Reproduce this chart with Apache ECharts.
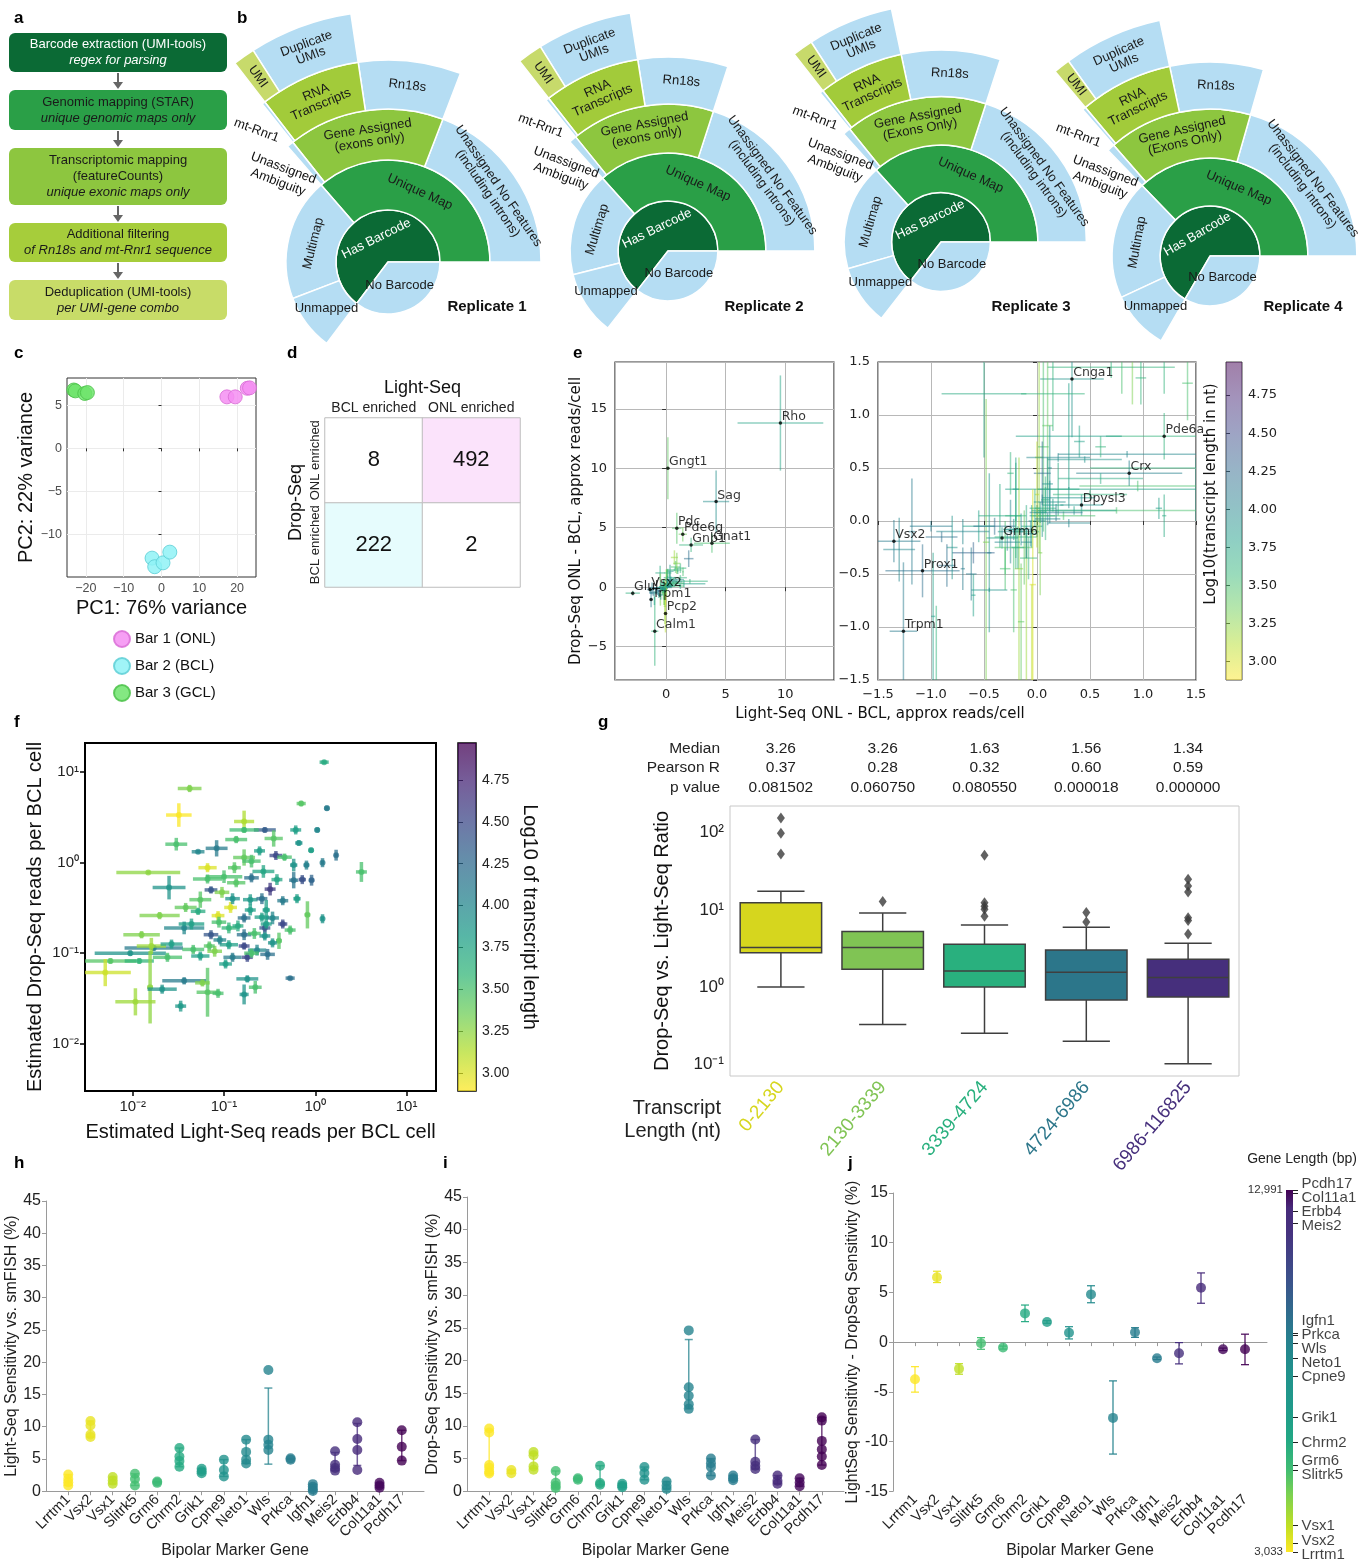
<!DOCTYPE html>
<html>
<head>
<meta charset="utf-8">
<title>Light-Seq figure</title>
<script src="https://cdn.jsdelivr.net/npm/echarts@6.0.0/dist/echarts.min.js"></script>
<style>
html,body{margin:0;padding:0;background:#ffffff;}
#chart{width:1370px;height:1560px;}
</style>
</head>
<body>
<div id="chart"></div>
<script>
// ======================= DATA =======================
// (a) processing pipeline
const flowTitles = ['Barcode extraction (UMI-tools)', 'Genomic mapping (STAR)', 'Transcriptomic mapping\n(featureCounts)', 'Additional filtering', 'Deduplication (UMI-tools)'];
const flowNotes = ['regex for parsing', 'unique genomic maps only', 'unique exonic maps only', 'of Rn18s and mt-Rnr1 sequence', 'per UMI-gene combo'];

// (b) read fate sunbursts (values = degrees of the full circle)
// order: HasBarcode, NoBarcode, UniqueMap, Multimap, Unmapped, UnassignedNoFeatures, GeneAssigned,
//        UnassignedAmbiguity, Rn18s, RNATranscripts, mtRnr1, DuplicateUMIs, UMI
const replicate1 = [233, 127, 131, 70, 32, 69, 59.5, 2.5, 29.5, 29.1, 0.9, 24, 5.1];
const replicate2 = [232, 128, 132, 62, 38, 72, 57, 3, 27, 29, 1, 23, 6];
const replicate3 = [232, 128, 132, 64, 36, 72, 57, 3, 30, 26, 1, 21, 5];
const replicate4 = [240, 120, 134, 71, 35, 74, 57, 3, 28, 28, 1, 24, 4];
const replicateNames = ['Replicate 1', 'Replicate 2', 'Replicate 3', 'Replicate 4'];
const geneAssignedNames = ['Gene Assigned\n(exons only)', 'Gene Assigned\n(exons only)', 'Gene Assigned\n(Exons Only)', 'Gene Assigned\n(Exons Only)'];

// (c) PCA
const pcaGroups = ['Bar 1 (ONL)', 'Bar 2 (BCL)', 'Bar 3 (GCL)'];
const pcaONL = [[17.3, 6.0], [19.5, 6.0], [22.7, 7.0], [23.3, 7.05]];
const pcaBCL = [[-2.5, -12.8], [-1.8, -13.8], [0.4, -13.35], [2.2, -12.1]];
const pcaGCL = [[-23.2, 6.8], [-22.8, 6.7], [-20.3, 6.4], [-19.6, 6.5]];
const pcaTicksX = [-20, -10, 0, 10, 20];
const pcaTicksY = [-10, -5, 0, 5];

// (d) contingency table
const dCategories = ['BCL enriched', 'ONL enriched'];
const dCounts = [[0, 0, 222], [1, 0, 2], [0, 1, 8], [1, 1, 492]]; // [Light-Seq col, Drop-Seq row, count]

// (e) ONL - BCL differences: [x, y, xerr, yerr, log10 length]
const eNames = ['Rho', 'Gngt1', 'Sag', 'Pdc', 'Pde6g', 'Gnb1', 'Gnat1', 'Glul', 'Vsx2', 'Trpm1', 'Pcp2', 'Calm1', 'Cnga1', 'Pde6a', 'Crx', 'Dpysl3', 'Grm6', 'Prox1'];
const eLabeled = [[9.6, 13.8, 3.6, 4.0, 3.75], [0.15, 10.0, 0.15, 2.6, 3.4], [4.2, 7.2, 1.1, 2.6, 3.95], [0.9, 4.95, 0.4, 1.3, 3.45], [1.4, 4.45, 0.35, 0.6, 3.35], [2.1, 3.55, 1.0, 0.6, 3.6], [3.85, 3.7, 1.5, 0.8, 3.5], [-2.8, -0.5, 0.6, 0.2, 3.65], [-1.35, -0.19, 0.25, 0.2, 4.1], [-1.26, -1.04, 0.13, 0.65, 4.1], [-0.05, -2.2, 0.15, 1.6, 3.1], [-0.95, -3.7, 0.3, 2.9, 3.6], [0.33, 1.34, 0.3, 0.55, 3.9], [1.2, 0.8, 0.55, 0.22, 3.6], [0.87, 0.45, 0.5, 0.12, 4.05], [0.42, 0.15, 0.2, 0.1, 3.9], [-0.33, -0.16, 0.15, 0.1, 3.8], [-1.08, -0.47, 0.35, 0.25, 4.2]];
const eOther = [[0.7, 2.5, 0.3, 0.6, 3.2], [0.8, 1.7, 0.4, 0.5, 3.5], [1.2, 1.6, 0.5, 0.4, 3.6], [1.9, 2.4, 0.4, 0.7, 4.2], [0.9, 2.0, 0.3, 0.9, 3.3], [1.5, 0.3, 1.8, 0.3, 3.8], [2.0, 0.5, 1.5, 0.2, 3.6], [-0.1, -1.6, 0.1, 1.5, 3.2], [-0.5, 1.2, 0.4, 0.6, 3.7], [0.3, 0.8, 0.5, 0.5, 3.8],
  [0.02, 0.6, 0.04, 0.9, 3.2], [0.06, 0.7, 0.05, 0.8, 3.5], [0.1, 0.9, 0.05, 0.6, 3.4], [0.15, 1.2, 0.3, 0.35, 3.6], [0.7, 1.45, 0.6, 0.1, 3.6], [0.98, 1.35, 0.05, 0.25, 3.6], [1.42, 1.3, 0.05, 0.35, 3.5], [0.85, 0.63, 0.65, 0.03, 4.0], [0.45, 0.58, 0.35, 0.03, 3.9], [0.75, 0.1, 0.75, 0.03, 3.5],
  [1.15, 0.12, 0.03, 0.1, 3.8], [0.6, 0.4, 0.4, 0.05, 3.7], [0.95, 0.33, 0.55, 0.05, 3.5], [0.3, 0.22, 0.25, 0.1, 3.9], [0.2, 0.3, 0.2, 0.25, 3.7], [0.12, 0.18, 0.15, 0.2, 3.95], [0.08, 0.12, 0.1, 0.3, 3.6], [0.05, 0.05, 0.12, 0.2, 3.9], [0.0, 0.0, 0.08, 0.15, 4.0], [-0.05, -0.05, 0.1, 0.2, 3.8],
  [-0.1, -0.1, 0.12, 0.25, 3.7], [-0.15, -0.08, 0.15, 0.15, 3.9], [-0.2, -0.15, 0.2, 0.2, 3.6], [-0.25, -0.1, 0.12, 0.3, 4.0], [-0.3, -0.25, 0.1, 0.25, 3.5], [-0.12, -0.25, 0.08, 0.35, 3.4], [-0.04, -0.6, 0.03, 0.9, 3.0], [-0.48, -0.2, 0.03, 1.35, 3.3], [-0.17, -0.45, 0.04, 1.05, 3.2], [-0.22, -0.65, 0.03, 0.4, 3.5],
  [-0.45, -0.3, 0.02, 0.75, 3.9], [-0.45, -0.65, 0.17, 0.02, 3.9], [-0.62, -0.5, 0.05, 0.25, 4.1], [-0.85, -0.42, 0.08, 0.2, 4.2], [-0.98, -0.9, 0.02, 0.6, 3.8], [-1.18, -0.1, 0.03, 0.5, 4.1], [-1.3, -0.27, 0.15, 0.3, 4.0], [-0.7, -0.1, 0.25, 0.12, 4.0], [-0.6, -0.3, 0.2, 0.1, 4.3], [-0.55, -0.05, 0.15, 0.15, 3.8],
  [-0.4, -0.05, 0.2, 0.08, 4.2], [-0.35, 0.05, 0.2, 0.3, 3.7], [-0.2, 0.05, 0.1, 0.5, 3.6], [-0.2, 0.3, 0.03, 0.3, 3.8], [0.25, 0.05, 0.3, 0.04, 3.5], [0.35, 0.1, 0.4, 0.04, 3.8], [0.1, 0.35, 0.05, 0.25, 3.9], [0.05, 0.45, 0.08, 0.3, 4.2], [0.18, 0.08, 0.25, 0.08, 4.1], [-0.08, -0.35, 0.08, 0.2, 3.6],
  [-0.3, -0.45, 0.05, 0.2, 3.5], [-0.8, -0.25, 0.05, 0.3, 3.9], [-0.9, -0.15, 0.15, 0.05, 4.2], [-1.0, -0.05, 0.2, 0.05, 4.1], [-0.15, -0.95, 0.03, 0.55, 3.4], [0.0, 0.25, 0.02, 0.5, 3.1], [0.03, -0.3, 0.02, 0.4, 3.3], [0.2, 0.6, 0.3, 0.04, 4.0], [0.5, 0.25, 0.35, 0.04, 3.6], [0.4, 0.75, 0.05, 0.15, 3.8],
  [0.12, 0.5, 0.02, 0.4, 3.9], [0.6, 0.7, 0.05, 0.1, 3.6], [-0.25, 0.45, 0.03, 0.2, 3.6], [-0.6, -0.7, 0.02, 0.2, 3.8], [-0.7, -0.45, 0.02, 0.2, 4.1], [0.3, -0.02, 0.2, 0.04, 4.0], [1.2, 0.05, 0.02, 0.2, 3.7],
  [-0.06, -0.12, 0.06, 0.12, 3.9], [0.03, 0.08, 0.06, 0.1, 3.8], [-0.1, -0.2, 0.05, 0.15, 4.0], [0.08, 0.2, 0.04, 0.12, 3.7], [-0.22, -0.08, 0.1, 0.1, 3.9], [-0.02, 0.12, 0.05, 0.18, 3.6], [0.15, 0.15, 0.1, 0.06, 3.8], [-0.28, -0.2, 0.12, 0.08, 4.0], [-0.18, -0.25, 0.06, 0.2, 3.7], [0.1, 0.02, 0.12, 0.06, 4.0]];
const eLeftLabels = ['Rho', 'Gngt1', 'Sag', 'Pdc', 'Pde6g', 'Gnb1', 'Gnat1', 'Glul', 'Vsx2', 'Trpm1', 'Pcp2', 'Calm1'];
const eRightLabels = ['Cnga1', 'Pde6a', 'Crx', 'Dpysl3', 'Grm6', 'Vsx2', 'Prox1', 'Trpm1'];
const eColorRange = [2.88, 4.967];
const eColorTicks = [3.0, 3.25, 3.5, 3.75, 4.0, 4.25, 4.5, 4.75];

// (f) per-BCL-cell reads: [lightSeq x, dropSeq y, x half-width (decades), y half-width (decades), log10 length]
const fPoints = [[1.25, 12.9, 0.05, 0.02, 3.7], [0.042, 6.6, 0.13, 0.04, 3.3], [0.70, 4.5, 0.05, 0.03, 3.45], [1.34, 4.0, 0.03, 0.03, 4.1], [0.032, 3.36, 0.14, 0.13, 2.9], [0.166, 2.85, 0.11, 0.12, 3.15], [0.28, 2.3, 0.12, 0.03, 4.35], [0.166, 2.3, 0.16, 0.03, 3.55], [0.61, 2.3, 0.06, 0.05, 3.8], [1.05, 2.3, 0.03, 0.03, 4.0],
  [0.35, 1.85, 0.1, 0.09, 3.45], [0.136, 1.8, 0.12, 0.04, 3.5], [0.03, 1.6, 0.12, 0.07, 3.5], [0.66, 1.65, 0.04, 0.03, 3.9], [0.083, 1.44, 0.12, 0.09, 4.1], [0.052, 1.32, 0.07, 0.02, 4.0], [0.9, 1.37, 0.03, 0.03, 3.8], [1.69, 1.21, 0.02, 0.06, 4.2], [0.37, 1.2, 0.07, 0.05, 4.5], [0.166, 1.14, 0.12, 0.09, 3.4],
  [0.46, 1.15, 0.08, 0.04, 3.5], [0.066, 0.88, 0.1, 0.05, 3.0], [0.0148, 0.78, 0.35, 0.02, 3.25], [3.2, 0.79, 0.06, 0.11, 3.5], [0.27, 0.8, 0.12, 0.07, 3.75], [0.58, 0.94, 0.04, 0.07, 3.9], [0.8, 0.94, 0.03, 0.05, 4.05], [1.2, 1.0, 0.02, 0.05, 4.1], [0.025, 0.53, 0.18, 0.13, 3.9], [0.1, 0.7, 0.2, 0.07, 3.5],
  [0.136, 0.6, 0.1, 0.05, 3.45], [0.58, 0.64, 0.05, 0.09, 4.15], [0.72, 0.65, 0.04, 0.05, 4.45], [0.91, 0.64, 0.03, 0.06, 4.3], [0.32, 0.51, 0.06, 0.07, 4.6], [0.072, 0.5, 0.07, 0.04, 4.4], [0.055, 0.39, 0.12, 0.09, 3.45], [0.194, 0.39, 0.08, 0.06, 3.85], [0.44, 0.38, 0.06, 0.05, 4.1], [0.63, 0.4, 0.04, 0.05, 3.8],
  [0.82, 0.265, 0.03, 0.15, 3.4], [1.2, 0.24, 0.02, 0.05, 3.9], [0.052, 0.29, 0.08, 0.04, 3.7], [0.0197, 0.26, 0.22, 0.04, 3.3], [0.086, 0.26, 0.07, 0.05, 3.0], [0.194, 0.3, 0.06, 0.06, 3.8], [0.26, 0.25, 0.08, 0.05, 3.8], [0.0366, 0.19, 0.22, 0.07, 4.0], [0.113, 0.19, 0.08, 0.06, 3.6], [0.53, 0.18, 0.06, 0.05, 3.5],
  [0.072, 0.16, 0.08, 0.05, 4.4], [0.166, 0.16, 0.08, 0.06, 4.2], [0.28, 0.155, 0.06, 0.05, 3.9], [0.4, 0.137, 0.03, 0.09, 3.45], [0.017, 0.114, 0.32, 0.03, 4.1], [0.113, 0.124, 0.1, 0.05, 3.8], [0.166, 0.12, 0.06, 0.04, 4.5], [0.23, 0.108, 0.1, 0.06, 4.0], [0.0094, 0.1, 0.39, 0.03, 3.9], [0.0057, 0.082, 0.28, 0.03, 3.45],
  [0.005, 0.061, 0.28, 0.15, 3.05], [0.016, 0.12, 0.16, 0.09, 3.2], [0.0118, 0.082, 0.16, 0.03, 3.6], [0.0155, 0.042, 0.03, 0.4, 3.25], [0.0107, 0.029, 0.22, 0.15, 3.2], [0.021, 0.04, 0.16, 0.05, 3.9], [0.0366, 0.0495, 0.24, 0.04, 4.1], [0.0335, 0.026, 0.06, 0.06, 3.85], [0.066, 0.037, 0.12, 0.27, 3.45], [0.086, 0.036, 0.06, 0.05, 3.5],
  [0.058, 0.047, 0.08, 0.04, 3.3], [0.166, 0.035, 0.05, 0.11, 3.9], [0.18, 0.052, 0.12, 0.04, 3.9], [0.22, 0.042, 0.07, 0.07, 3.5], [0.53, 0.053, 0.05, 0.02, 4.2], [0.046, 0.11, 0.12, 0.05, 3.5], [0.055, 0.093, 0.1, 0.05, 3.8], [0.079, 0.105, 0.08, 0.06, 3.3], [0.124, 0.09, 0.1, 0.05, 4.1], [0.18, 0.09, 0.06, 0.05, 4.5],
  [0.3, 0.097, 0.08, 0.06, 4.2], [0.0266, 0.126, 0.12, 0.05, 3.8], [0.038, 0.32, 0.12, 0.05, 3.4], [0.118, 0.32, 0.07, 0.06, 3.0], [0.088, 0.22, 0.08, 0.06, 3.5], [0.044, 0.21, 0.14, 0.06, 3.8], [0.166, 0.245, 0.07, 0.05, 4.2], [0.34, 0.245, 0.07, 0.07, 4.0], [0.44, 0.21, 0.05, 0.05, 4.5], [0.26, 0.4, 0.06, 0.06, 4.2],
  [0.124, 0.4, 0.08, 0.06, 3.9], [0.095, 0.47, 0.08, 0.06, 3.3], [0.066, 0.66, 0.16, 0.05, 3.5], [0.2, 1.04, 0.1, 0.07, 3.5], [0.245, 1.35, 0.06, 0.05, 3.8], [0.13, 0.88, 0.07, 0.06, 3.45], [0.38, 0.65, 0.06, 0.06, 3.75], [0.2, 0.68, 0.08, 0.05, 4.2], [0.29, 0.3, 0.04, 0.11, 3.8], [0.28, 0.19, 0.06, 0.05, 4.4],
  [0.2, 0.1, 0.08, 0.05, 3.5], [0.34, 0.13, 0.05, 0.05, 3.9], [0.069, 0.12, 0.06, 0.05, 3.45], [0.104, 0.076, 0.07, 0.05, 3.8], [0.024, 0.09, 0.16, 0.05, 3.5], [0.142, 0.2, 0.06, 0.06, 3.7], [0.09, 0.14, 0.07, 0.05, 4.0], [0.215, 0.165, 0.07, 0.06, 3.5], [0.29, 0.21, 0.06, 0.05, 3.8], [0.0125, 0.16, 0.2, 0.04, 3.3]];
const fColorRange = [2.894, 4.97];
const fColorTicks = [3.0, 3.25, 3.5, 3.75, 4.0, 4.25, 4.5, 4.75];

// (g) Drop-Seq / Light-Seq ratio by transcript length bin
const gBins = ['0-2130', '2130-3339', '3339-4724', '4724-6986', '6986-116825'];
const gMedian = ['3.26', '3.26', '1.63', '1.56', '1.34'];
const gPearson = ['0.37', '0.28', '0.32', '0.60', '0.59'];
const gPvalue = ['0.081502', '0.060750', '0.080550', '0.000018', '0.000000'];
const gBoxes = [[1.01, 2.8, 3.26, 12.4, 17.4], [0.33, 1.71, 3.26, 5.25, 9.1], [0.254, 1.01, 1.63, 3.6, 6.4], [0.2, 0.685, 1.56, 3.04, 5.97], [0.103, 0.75, 1.34, 2.3, 3.71]];
const gOutliers = [[155, 98, 53], [12.9], [51, 12.4, 11.2, 10.2, 8.3], [9.3, 7.0], [25, 20.4, 17.1, 7.9, 7.3, 4.9]];

// (h, i, j) bipolar marker genes
const genes = ['Lrrtm1', 'Vsx2', 'Vsx1', 'Slitrk5', 'Grm6', 'Chrm2', 'Grik1', 'Cpne9', 'Neto1', 'Wls', 'Prkca', 'Igfn1', 'Meis2', 'Erbb4', 'Col11a1', 'Pcdh17'];
const geneLength = [3033, 3280, 3764, 5271, 5408, 6048, 6733, 7875, 8359, 8780, 9000, 9040, 12077, 12397, 12900, 12991];
const hValues = [[2.6, 1.9, 1.4, 0.9], [10.9, 10.2, 8.8, 8.4], [2.2, 1.65, 1.15], [2.7, 1.9, 0.9], [1.5, 1.3], [6.7, 5.4, 4.7, 3.8], [3.5, 3.1, 2.8], [4.9, 3.3, 2.3], [8.0, 6.1, 4.9, 4.3], [18.8, 8.0, 7.2, 6.4], [5.1, 4.9], [1.1, 0.7, 0.3, 0.05], [6.2, 4.1, 3.6, 3.2], [10.7, 8.1, 6.4, 3.3], [1.3, 0.9, 0.55], [9.45, 6.9, 4.75]];
const hErrors = [[0.9, 2.6], [8.4, 10.9], [1.15, 2.2], [0.9, 2.7], [1.3, 1.5], [3.8, 6.7], [2.8, 3.5], [2.3, 4.9], [4.3, 8.0], [4.2, 16.0], [4.9, 5.1], [0.05, 1.1], [3.2, 6.0], [4.0, 10.5], [0.55, 1.3], [4.75, 9.45]];
const iValues = [[9.6, 9.0, 4.0, 3.6, 3.0, 2.7], [3.25, 2.75], [6.0, 5.5, 3.8, 3.3], [3.1, 1.3, 0.85, 0.5], [2.0, 1.75], [3.9, 1.25, 1.0], [1.15, 0.85, 0.6], [3.7, 2.8, 1.75], [1.5, 0.85, 0.35], [24.6, 15.9, 14.6, 13.3, 12.6], [5.0, 4.3, 3.7, 2.4], [2.4, 2.0, 1.7], [7.9, 4.5, 3.9, 3.4], [2.4, 1.6, 1.15], [2.0, 1.35, 0.75], [11.3, 10.8, 7.7, 6.4, 5.3, 4.0]];
const iErrors = [[2.7, 9.3], [2.75, 3.25], [3.5, 5.8], [0.5, 3.1], [1.75, 2.0], [1.0, 3.9], [0.6, 1.15], [1.75, 3.7], [0.35, 1.5], [12.6, 23.2], [2.4, 5.0], [1.7, 2.4], [3.4, 7.9], [1.15, 2.4], [0.75, 2.0], [4.0, 11.3]];
const jMean = [-3.73, 6.52, -2.69, -0.12, -0.55, 2.89, 2.02, 0.95, 4.8, -7.62, 0.99, -1.62, -1.12, 5.47, -0.72, -0.72];
const jLow = [-5.03, 5.99, -3.23, -0.72, -0.7, 2.06, 1.9, 0.32, 3.96, -11.26, 0.48, -1.75, -2.19, 3.91, -0.85, -2.27];
const jHigh = [-2.47, 7.13, -2.17, 0.45, -0.4, 3.73, 2.15, 1.55, 5.67, -3.9, 1.45, -1.5, -0.05, 6.96, -0.6, 0.8];
const geneLengthRange = [3033, 12991];

// ======================= STYLE HELPERS =======================
const FONT = '"Liberation Sans", Arial, Helvetica, sans-serif';
const NARROW = '"Liberation Sans Narrow", "Liberation Sans", Arial, sans-serif';
const DJ = '"DejaVu Sans", "Liberation Sans", sans-serif';
const VIR = ['#440154', '#482878', '#3e4989', '#31688e', '#26828e', '#1f9e89', '#35b779', '#6ece58', '#b5de2b', '#fde725'];
const VIR_R = VIR.slice().reverse();
const GENE_STOPS = [[0, '#fde725'], [0.07, '#c2df23'], [0.16, '#7ad151'], [0.23, '#3fbc73'], [0.31, '#22a884'], [0.4, '#1f9a8a'], [0.5, '#21918c'], [0.58, '#26828e'], [0.62, '#2a788e'], [0.75, '#3b528b'], [0.88, '#46337f'], [0.95, '#472a7a'], [1.0, '#440154']];
function lerpColor(t, stops) { return echarts.color.lerp(Math.max(0, Math.min(1, t)), stops); }
function stopColor(t, stops) {
  t = Math.max(0, Math.min(1, t));
  for (let k = 1; k < stops.length; k++) {
    if (t <= stops[k][0]) { const a = stops[k - 1], b = stops[k]; return echarts.color.lerp((t - a[0]) / (b[0] - a[0]), [a[1], b[1]]); }
  }
  return stops[stops.length - 1][1];
}
function lenColor(L, range, alpha) {
  const c = lerpColor((L - range[0]) / (range[1] - range[0]), VIR_R);
  return echarts.color.modifyAlpha(c, alpha);
}
function geneColor(k) { return stopColor((geneLength[k] - geneLengthRange[0]) / (geneLengthRange[1] - geneLengthRange[0]), GENE_STOPS); }
function minusFmt(d) { return function (v) { return (v < 0 ? '\u2212' : '') + Math.abs(v).toFixed(d); }; }
const SUP = { '-': '\u207b', '0': '\u2070', '1': '\u00b9', '2': '\u00b2', '3': '\u00b3', '4': '\u2074', '5': '\u2075', '6': '\u2076', '7': '\u2077', '8': '\u2078', '9': '\u2079' };
function pow10Label(v) {
  const e = Math.log10(v); const r = Math.round(e);
  if (Math.abs(e - r) > 1e-6) return '';
  return '10' + String(r).split('').map(function (ch) { return SUP[ch]; }).join('');
}
function gradientStops(stops, alpha) {
  return stops.map(function (c, i) { return { offset: i / (stops.length - 1), color: echarts.color.modifyAlpha(c, alpha) }; });
}

// ======================= BUILD =======================
const grids = [], xAxes = [], yAxes = [], series = [], graphics = [];
function addGrid(g, xs, ys) {
  grids.push(g); const gi = grids.length - 1; const xi = [], yi = [];
  xs.forEach(function (a) { a.gridIndex = gi; xAxes.push(a); xi.push(xAxes.length - 1); });
  ys.forEach(function (a) { a.gridIndex = gi; yAxes.push(a); yi.push(yAxes.length - 1); });
  return { gi: gi, x: xi, y: yi };
}
function txt(text, x, y, opt) {
  opt = opt || {};
  graphics.push({ type: 'text', x: x, y: y, rotation: opt.rotation || 0, silent: true, z: 100,
    style: { text: text, font: opt.font || ('14px ' + FONT), fill: opt.fill || '#111', align: opt.align || 'center', verticalAlign: opt.verticalAlign || 'middle', lineHeight: opt.lineHeight } });
}

// ---- panel letters ----
[['a', 14, 18], ['b', 237, 18], ['c', 14, 353], ['d', 287, 353], ['e', 573, 353], ['f', 14, 722], ['g', 598, 722], ['h', 14, 1163], ['i', 443, 1163], ['j', 848, 1163]].forEach(function (p) {
  txt(p[0], p[1], p[2], { font: 'bold 17px ' + FONT, fill: '#000', align: 'left' });
});

// ---- (a) flowchart ----
const flowColors = ['#0b6a35', '#2a9f47', '#8dc63f', '#a6cd3b', '#c8dc68'];
const flowTextColors = ['#ffffff', '#1a1a1a', '#1a1a1a', '#1a1a1a', '#1a1a1a'];
const flowBoxes = [[33, 39], [90, 40], [148, 57], [223, 39], [280, 40]];
flowTitles.forEach(function (t, i) {
  const top = flowBoxes[i][0], h = flowBoxes[i][1];
  graphics.push({ type: 'rect', silent: true, z: 10, shape: { x: 9, y: top, width: 218, height: h, r: 6 }, style: { fill: flowColors[i] } });
  const lines = t.split('\n');
  const n = lines.length + 1; const lh = 16; const y0 = top + h / 2 - (n - 1) * lh / 2;
  lines.forEach(function (ln, j) { txt(ln, 118, y0 + j * lh, { font: '13px ' + FONT, fill: flowTextColors[i] }); });
  txt(flowNotes[i], 118, y0 + lines.length * lh, { font: 'italic 13px ' + FONT, fill: flowTextColors[i] });
  if (i < flowTitles.length - 1) {
    const yb = top + h, yn = flowBoxes[i + 1][0];
    graphics.push({ type: 'line', silent: true, shape: { x1: 118, y1: yb + 1, x2: 118, y2: yn - 6 }, style: { stroke: '#666', lineWidth: 2 } });
    graphics.push({ type: 'polygon', silent: true, shape: { points: [[113, yn - 8], [123, yn - 8], [118, yn - 1]] }, style: { fill: '#666' } });
  }
});

// ---- (b) sunbursts ----
const SB = { dark: '#0b6a35', mid: '#2a9f47', ga: '#8dc63f', rna: '#a2cb3a', umi: '#c7da6b', blue: '#b5ddf3' };
function buildTree(v, gaName) {
  return [
    { name: 'Has Barcode', value: v[0], itemStyle: { color: SB.dark }, label: { color: '#ffffff' }, children: [
      { name: 'Unique Map', value: v[2], itemStyle: { color: SB.mid }, children: [
        { name: 'Unassigned No Features\n(including introns)', value: v[5], itemStyle: { color: SB.blue } },
        { name: gaName, value: v[6], itemStyle: { color: SB.ga }, children: [
          { name: 'Rn18s', value: v[8], itemStyle: { color: SB.blue } },
          { name: 'RNA\nTranscripts', value: v[9], itemStyle: { color: SB.rna }, children: [
            { name: 'Duplicate\nUMIs', value: v[11], itemStyle: { color: SB.blue } },
            { name: 'UMI', value: v[12], itemStyle: { color: SB.umi }, label: { rotate: 'radial' } }
          ] },
          { name: 'mt-Rnr1', value: v[10], itemStyle: { color: SB.blue }, label: { show: false } }
        ] },
        { name: 'Unassigned Ambiguity', value: v[7], itemStyle: { color: SB.blue }, label: { show: false } }
      ] },
      { name: 'Multimap', value: v[3], itemStyle: { color: SB.blue } },
      { name: 'Unmapped', value: v[4], itemStyle: { color: SB.blue }, label: { rotate: 0 } }
    ] },
    { name: 'No Barcode', value: v[1], itemStyle: { color: SB.blue }, label: { rotate: 0 } }
  ];
}
const replicates = [replicate1, replicate2, replicate3, replicate4];
const sunCenters = [[388, 262], [668, 251], [941, 242], [1210, 256]];
const sunScale = [1, 0.96, 0.95, 0.96];
const sunTitlePos = [[487, 307], [764, 307], [1031, 307], [1303, 307]];
replicates.forEach(function (v, k) {
  const s = sunScale[k], c = sunCenters[k];
  const R = [52, 102, 153, 202, 251].map(function (r) { return r * s; });
  series.push({ type: 'sunburst', center: c, radius: [0, R[4]], startAngle: 0, clockwise: false, sort: null, nodeClick: false,
    emphasis: { disabled: true }, data: buildTree(v, geneAssignedNames[k]),
    itemStyle: { borderColor: '#ffffff', borderWidth: 1.5 },
    label: { rotate: 'tangential', fontSize: 13, color: '#1a1a1a', fontFamily: FONT, minAngle: 0 },
    levels: [{}, { r0: 0, r: R[0] }, { r0: R[0], r: R[1] }, { r0: R[1], r: R[2] }, { r0: R[2], r: R[3] }, { r0: R[3], r: R[4] }] });
  txt(replicateNames[k], sunTitlePos[k][0], sunTitlePos[k][1], { font: 'bold 15px ' + FONT, fill: '#111' });
  // labels of the two hair-thin slices, placed just beside them
  const gaEnd = (v[5] + v[6]) * Math.PI / 180 + 0.113, umEnd = v[2] * Math.PI / 180 + 0.175;
  txt('mt-Rnr1', c[0] + 186 * s * Math.cos(gaEnd), c[1] - 186 * s * Math.sin(gaEnd), { font: '13px ' + FONT, rotation: -0.36 });
  txt('Unassigned\nAmbiguity', c[0] + 138 * s * Math.cos(umEnd), c[1] - 138 * s * Math.sin(umEnd), { font: '13px ' + FONT, rotation: -0.36, lineHeight: 15 });
});

// ---- (c) PCA ----
const C = addGrid({ left: 67, top: 378, width: 189, height: 199, show: true, borderColor: '#333333', borderWidth: 1 },
  [{ type: 'value', min: -25, max: 25, interval: 5, axisLine: { show: false },
    axisTick: { show: true, customValues: pcaTicksX, length: 3, lineStyle: { color: '#333' } },
    axisLabel: { customValues: pcaTicksX, formatter: minusFmt(0), fontSize: 12.5, color: '#4d4d4d', margin: 5 },
    splitLine: { show: true, lineStyle: { color: '#ebebeb' } },
    name: 'PC1: 76% variance', nameLocation: 'middle', nameGap: 21, nameTextStyle: { fontSize: 20, color: '#111' } }],
  [{ type: 'value', min: -15, max: 8.2, interval: 2.5, axisLine: { show: false },
    axisTick: { show: true, customValues: pcaTicksY, length: 3, lineStyle: { color: '#333' } },
    axisLabel: { customValues: pcaTicksY, formatter: minusFmt(0), fontSize: 12.5, color: '#4d4d4d', margin: 5 },
    splitLine: { show: true, lineStyle: { color: '#ebebeb' } },
    name: 'PC2: 22% variance', nameLocation: 'middle', nameGap: 16, nameTextStyle: { fontSize: 20, color: '#111' } }]);
const pcaColors = ['#f48ef2', '#8ff2f6', '#6fe46c'];
const pcaBorders = ['#d96fd6', '#5fcfd6', '#4cc24a'];
[pcaONL, pcaBCL, pcaGCL].forEach(function (pts, k) {
  series.push({ type: 'scatter', name: pcaGroups[k], xAxisIndex: C.x[0], yAxisIndex: C.y[0], data: pts, symbolSize: 14,
    itemStyle: { color: pcaColors[k], opacity: 0.85, borderColor: pcaBorders[k], borderWidth: 1 } });
});

// ---- (d) table ----
const D = addGrid({ left: 325, top: 418, width: 195, height: 169 },
  [{ type: 'category', data: dCategories, position: 'top', axisLine: { show: false }, axisTick: { show: false },
    axisLabel: { interval: 0, fontSize: 14, color: '#222', margin: 3 }, splitLine: { show: false },
    name: 'Light-Seq', nameLocation: 'middle', nameGap: 21, nameTextStyle: { fontSize: 18, color: '#111' } }],
  [{ type: 'category', data: dCategories, axisLine: { show: false }, axisTick: { show: false },
    axisLabel: { interval: 0, rotate: 90, fontSize: 13, color: '#222', margin: 3 }, splitLine: { show: false },
    name: 'Drop-Seq', nameLocation: 'middle', nameGap: 20, nameTextStyle: { fontSize: 18, color: '#111' } }]);
function dCellColor(v) { if (v[0] === 1 && v[1] === 1) return '#fbe3fb'; if (v[0] === 0 && v[1] === 0) return '#e6fcfd'; return '#ffffff'; }
series.push({ type: 'heatmap', xAxisIndex: D.x[0], yAxisIndex: D.y[0],
  data: dCounts.map(function (v) { return { value: v, itemStyle: { color: dCellColor(v) } }; }),
  itemStyle: { borderColor: '#bdbdbd', borderWidth: 1 },
  label: { show: true, fontSize: 22, color: '#111', formatter: function (p) { return p.value[2]; } } });

// ---- (e) ONL - BCL scatter ----
const eAll = eLabeled.concat(eOther);
const eAxisLbl = { fontFamily: DJ, fontSize: 13, color: '#222' };
const EL = addGrid({ left: 615, top: 362, width: 219, height: 318, show: true, borderColor: '#333', borderWidth: 1.2 },
  [{ type: 'value', min: -4.29, max: 14.1, splitNumber: 4, axisLine: { show: false }, axisTick: { length: 4, lineStyle: { color: '#333' } },
    axisLabel: Object.assign({ showMinLabel: false, showMaxLabel: false, formatter: minusFmt(0) }, eAxisLbl), splitLine: { show: true, lineStyle: { color: '#b8b8b8' } } }],
  [{ type: 'value', min: -7.8, max: 18.93, splitNumber: 5, axisLine: { show: false }, axisTick: { length: 4, lineStyle: { color: '#333' } },
    axisLabel: Object.assign({ showMinLabel: false, showMaxLabel: false, formatter: minusFmt(0) }, eAxisLbl), splitLine: { show: true, lineStyle: { color: '#b8b8b8' } },
    name: 'Drop-Seq ONL - BCL, approx reads/cell', nameLocation: 'middle', nameGap: 21, nameTextStyle: { fontFamily: DJ, fontSize: 15, color: '#111' } }]);
const ER = addGrid({ left: 878, top: 362, width: 318, height: 318, show: true, borderColor: '#333', borderWidth: 1.2 },
  [{ type: 'value', min: -1.5, max: 1.5, interval: 0.5, axisLine: { show: false }, axisTick: { length: 4, lineStyle: { color: '#333' } },
    axisLabel: Object.assign({ formatter: minusFmt(1) }, eAxisLbl), splitLine: { show: true, lineStyle: { color: '#b8b8b8' } } }],
  [{ type: 'value', min: -1.5, max: 1.5, interval: 0.5, axisLine: { show: false }, axisTick: { length: 4, lineStyle: { color: '#333' } },
    axisLabel: Object.assign({ formatter: minusFmt(1) }, eAxisLbl), splitLine: { show: true, lineStyle: { color: '#b8b8b8' } } }]);
function eCross(params, api) {
  const x = api.value(0), y = api.value(1), ex = api.value(2), ey = api.value(3), L = api.value(4);
  const a = api.coord([x - ex, y]), b = api.coord([x + ex, y]), c = api.coord([x, y - ey]), d = api.coord([x, y + ey]);
  const col = lenColor(L, eColorRange, 0.5);
  return { type: 'group', children: [
    { type: 'line', shape: { x1: a[0], y1: a[1], x2: b[0], y2: b[1] }, style: { stroke: col, lineWidth: 1.5 } },
    { type: 'line', shape: { x1: c[0], y1: c[1], x2: d[0], y2: d[1] }, style: { stroke: col, lineWidth: 1.5 } }] };
}
[EL, ER].forEach(function (Gd) {
  series.push({ type: 'custom', xAxisIndex: Gd.x[0], yAxisIndex: Gd.y[0], data: eAll, renderItem: eCross, clip: true, silent: true });
});
function eLabelSeries(Gd, names) {
  const data = [];
  eNames.forEach(function (n, k) { if (names.indexOf(n) >= 0) data.push({ name: n, value: [eLabeled[k][0], eLabeled[k][1]] }); });
  series.push({ type: 'scatter', xAxisIndex: Gd.x[0], yAxisIndex: Gd.y[0], data: data, symbolSize: 3.5, itemStyle: { color: '#000' }, clip: true,
    label: { show: true, position: [3, -11], formatter: '{b}', fontFamily: DJ, fontSize: 12.5, color: '#000' }, z: 5 });
}
eLabelSeries(EL, eLeftLabels);
eLabelSeries(ER, eRightLabels);
txt('Light-Seq ONL - BCL, approx reads/cell', 880, 714, { font: '15px ' + DJ });
// colorbar e
const ECB = addGrid({ left: 1226, top: 362, width: 16, height: 318, show: true, borderColor: '#444', borderWidth: 1 },
  [{ type: 'value', min: 0, max: 1, show: false }],
  [{ type: 'value', min: eColorRange[0], max: eColorRange[1], position: 'right', axisLine: { show: false }, splitLine: { show: false },
    axisTick: { customValues: eColorTicks, length: 4, lineStyle: { color: '#333' } },
    axisLabel: { customValues: eColorTicks, formatter: function (v) { return v.toFixed(2); }, fontFamily: DJ, fontSize: 13, color: '#222', margin: 6 } }]);
function colorbarSeries(Gd, range, fillFn) {
  series.push({ type: 'custom', xAxisIndex: Gd.x[0], yAxisIndex: Gd.y[0], data: [[0, range[0]]], silent: true,
    renderItem: function (params, api) {
      const p0 = api.coord([0, range[0]]), p1 = api.coord([1, range[1]]);
      return { type: 'rect', shape: { x: p0[0], y: p1[1], width: p1[0] - p0[0], height: p0[1] - p1[1] }, style: { fill: fillFn() } };
    } });
}
colorbarSeries(ECB, eColorRange, function () { return new echarts.graphic.LinearGradient(0, 1, 0, 0, gradientStops(VIR_R, 0.5)); });
txt('Log10(transcript length in nt)', 1211, 494, { font: '15px ' + DJ, rotation: Math.PI / 2 });

// ---- (f) log-log scatter ----
const F = addGrid({ left: 85, top: 743, width: 351, height: 348, show: true, borderColor: '#000', borderWidth: 2 },
  [{ type: 'log', logBase: 10, min: 0.003, max: 21, axisLine: { show: false }, splitLine: { show: false },
    axisTick: { length: 5, lineStyle: { color: '#000', width: 1.5 } },
    axisLabel: { formatter: pow10Label, fontSize: 15, color: '#222', margin: 8, showMinLabel: false, showMaxLabel: false },
    name: 'Estimated Light-Seq reads per BCL cell', nameLocation: 'middle', nameGap: 31, nameTextStyle: { fontSize: 20, color: '#111' } }],
  [{ type: 'log', logBase: 10, min: 0.003, max: 21, axisLine: { show: false }, splitLine: { show: false },
    axisTick: { length: 5, lineStyle: { color: '#000', width: 1.5 } },
    axisLabel: { formatter: pow10Label, fontSize: 15, color: '#222', margin: 6, showMinLabel: false, showMaxLabel: false },
    name: 'Estimated Drop-Seq reads per BCL cell', nameLocation: 'middle', nameGap: 40, nameTextStyle: { fontSize: 20, color: '#111' } }]);
series.push({ type: 'custom', xAxisIndex: F.x[0], yAxisIndex: F.y[0], data: fPoints, clip: true, silent: true,
  renderItem: function (params, api) {
    const x = api.value(0), y = api.value(1), hx = Math.pow(10, api.value(2)), hy = Math.pow(10, api.value(3)), L = api.value(4);
    const a = api.coord([x / hx, y]), b = api.coord([x * hx, y]), c = api.coord([x, y / hy]), d = api.coord([x, y * hy]), m = api.coord([x, y]);
    const col = lenColor(L, fColorRange, 0.75);
    return { type: 'group', children: [
      { type: 'line', shape: { x1: a[0], y1: a[1], x2: b[0], y2: b[1] }, style: { stroke: col, lineWidth: 3.5 } },
      { type: 'line', shape: { x1: c[0], y1: c[1], x2: d[0], y2: d[1] }, style: { stroke: col, lineWidth: 3.5 } },
      { type: 'circle', shape: { cx: m[0], cy: m[1], r: 3 }, style: { fill: col } }] };
  } });
const FCB = addGrid({ left: 458, top: 743, width: 18, height: 348, show: true, borderColor: '#000', borderWidth: 1.5 },
  [{ type: 'value', min: 0, max: 1, show: false }],
  [{ type: 'value', min: fColorRange[0], max: fColorRange[1], position: 'right', axisLine: { show: false }, splitLine: { show: false },
    axisTick: { customValues: fColorTicks, length: 5, lineStyle: { color: '#000' } },
    axisLabel: { customValues: fColorTicks, formatter: function (v) { return v.toFixed(2); }, fontSize: 14, color: '#222', margin: 6 } }]);
colorbarSeries(FCB, fColorRange, function () { return new echarts.graphic.LinearGradient(0, 1, 0, 0, gradientStops(VIR_R, 0.75)); });
txt('Log10 of transcript length', 530, 917, { font: '20px ' + FONT, rotation: -Math.PI / 2 });

// ---- (g) boxplots ----
const gColors = ['#d6d61e', '#80c454', '#29b07e', '#2c768a', '#462f7c'];
const G = addGrid({ left: 730, top: 806, width: 509, height: 270, show: true, borderColor: '#c8c8c8', borderWidth: 1 },
  [{ type: 'category', data: gBins, axisLine: { show: false }, axisTick: { alignWithLabel: true, length: 5, lineStyle: { color: '#444' } },
    axisLabel: { interval: 0, rotate: 50, fontSize: 19, fontFamily: NARROW, margin: 8, color: function (v, i) { return gColors[i]; } }, splitLine: { show: false } },
   { type: 'category', data: gBins, position: 'top', axisLine: { show: false }, axisTick: { show: false }, splitLine: { show: false },
    axisLabel: { interval: 0, formatter: function (v, i) { return gMedian[i] + '\n' + gPearson[i] + '\n' + gPvalue[i]; }, fontSize: 15.5, lineHeight: 19.5, color: '#222', margin: 9 } }],
  [{ type: 'log', logBase: 10, min: 0.0713, max: 220.8, axisLine: { show: false }, splitLine: { show: false },
    axisTick: { length: 5, lineStyle: { color: '#444' } },
    axisLabel: { formatter: pow10Label, fontSize: 17, color: '#222', margin: 6, showMinLabel: false, showMaxLabel: false },
    name: 'Drop-Seq vs. Light-Seq Ratio', nameLocation: 'middle', nameGap: 58, nameTextStyle: { fontSize: 20, color: '#111' } }]);
series.push({ type: 'custom', xAxisIndex: G.x[0], yAxisIndex: G.y[0], silent: true,
  data: gBoxes.map(function (b, k) { return [k].concat(b); }),
  renderItem: function (params, api) {
    const k = api.value(0);
    const pLo = api.coord([k, api.value(1)]), pQ1 = api.coord([k, api.value(2)]), pM = api.coord([k, api.value(3)]), pQ3 = api.coord([k, api.value(4)]), pHi = api.coord([k, api.value(5)]);
    const band = api.size([1, 0])[0]; const bw = band * 0.8, cw = bw * 0.58; const cx = pQ1[0];
    const st = { stroke: '#3f3f3f', lineWidth: 1.5 };
    return { type: 'group', children: [
      { type: 'line', shape: { x1: cx, y1: pQ3[1], x2: cx, y2: pHi[1] }, style: st },
      { type: 'line', shape: { x1: cx, y1: pQ1[1], x2: cx, y2: pLo[1] }, style: st },
      { type: 'line', shape: { x1: cx - cw / 2, y1: pHi[1], x2: cx + cw / 2, y2: pHi[1] }, style: st },
      { type: 'line', shape: { x1: cx - cw / 2, y1: pLo[1], x2: cx + cw / 2, y2: pLo[1] }, style: st },
      { type: 'rect', shape: { x: cx - bw / 2, y: pQ3[1], width: bw, height: pQ1[1] - pQ3[1] }, style: { fill: gColors[k], stroke: '#3f3f3f', lineWidth: 1.5 } },
      { type: 'line', shape: { x1: cx - bw / 2, y1: pM[1], x2: cx + bw / 2, y2: pM[1] }, style: st }] };
  } });
const gOutData = [];
gOutliers.forEach(function (arr, k) { arr.forEach(function (v) { gOutData.push([k, v]); }); });
series.push({ type: 'scatter', xAxisIndex: G.x[0], yAxisIndex: G.y[0], data: gOutData, symbol: 'diamond', symbolSize: [8, 11], itemStyle: { color: '#3a3a3a' } });
txt('Median', 720, 749, { font: '15.5px ' + FONT, align: 'right', fill: '#222' });
txt('Pearson R', 720, 768, { font: '15.5px ' + FONT, align: 'right', fill: '#222' });
txt('p value', 720, 788, { font: '15.5px ' + FONT, align: 'right', fill: '#222' });
txt('Transcript', 721, 1108, { font: '20px ' + NARROW, align: 'right', fill: '#222' });
txt('Length (nt)', 721, 1131, { font: '20px ' + NARROW, align: 'right', fill: '#222' });

// ---- (h, i, j) marker genes ----
const geneIdx = genes.map(function (g, k) { return k + 1; });
function geneXAxis(nameGap) {
  return { type: 'value', min: 0, max: 17, interval: 1, axisLine: { show: true, lineStyle: { color: '#9a9a9a' } },
    axisTick: { show: true, customValues: geneIdx, length: 4, lineStyle: { color: '#9a9a9a' } },
    axisLabel: { customValues: geneIdx, formatter: function (v) { return genes[Math.round(v) - 1] || ''; }, rotate: 45, fontSize: 14.5, color: '#222', margin: 6 },
    splitLine: { show: false }, name: 'Bipolar Marker Gene', nameLocation: 'middle', nameGap: nameGap, nameTextStyle: { fontSize: 16, color: '#222' } };
}
function geneYAxis(min, max, name, gap) {
  return { type: 'value', min: min, max: max, interval: 5, axisLine: { show: true, lineStyle: { color: '#9a9a9a' } },
    axisTick: { show: true, length: 4, lineStyle: { color: '#9a9a9a' } }, splitLine: { show: false },
    axisLabel: { fontSize: 16, color: '#222', margin: 5 },
    name: name, nameLocation: 'middle', nameGap: gap, nameTextStyle: { fontSize: 16, color: '#222' } };
}
function errorSeries(Gd, lows, highs, width, capW, alpha) {
  series.push({ type: 'custom', xAxisIndex: Gd.x[0], yAxisIndex: Gd.y[0], silent: true,
    data: genes.map(function (g, k) { return [k + 1, lows[k], highs[k]]; }),
    renderItem: function (params, api) {
      const k = api.value(0); const lo = api.coord([k, api.value(1)]), hi = api.coord([k, api.value(2)]);
      const col = echarts.color.modifyAlpha(geneColor(params.dataIndex), alpha);
      const st = { stroke: col, lineWidth: width };
      return { type: 'group', children: [
        { type: 'line', shape: { x1: lo[0], y1: lo[1], x2: hi[0], y2: hi[1] }, style: st },
        { type: 'line', shape: { x1: lo[0] - capW, y1: lo[1], x2: lo[0] + capW, y2: lo[1] }, style: st },
        { type: 'line', shape: { x1: hi[0] - capW, y1: hi[1], x2: hi[0] + capW, y2: hi[1] }, style: st }] };
    } });
}
function dotSeries(Gd, valuesPerGene) {
  const data = [];
  valuesPerGene.forEach(function (arr, k) { arr.forEach(function (v) { data.push({ value: [k + 1, v], itemStyle: { color: geneColor(k) } }); }); });
  series.push({ type: 'scatter', xAxisIndex: Gd.x[0], yAxisIndex: Gd.y[0], data: data, symbolSize: 10, z: 4 });
}
const H = addGrid({ left: 46, top: 1201, width: 378, height: 298 }, [geneXAxis(40)], [geneYAxis(0, 45, 'Light-Seq Sensitivity vs. smFISH (%)', 21)]);
errorSeries(H, hErrors.map(function (e) { return e[0]; }), hErrors.map(function (e) { return e[1]; }), 1.5, 4, 0.75);
dotSeries(H, hValues);
const I = addGrid({ left: 467, top: 1197, width: 377, height: 298 }, [geneXAxis(43)], [geneYAxis(0, 45, 'Drop-Seq Sensitivity vs. smFISH (%)', 22)]);
errorSeries(I, iErrors.map(function (e) { return e[0]; }), iErrors.map(function (e) { return e[1]; }), 1.5, 4, 0.75);
dotSeries(I, iValues);
const J = addGrid({ left: 893, top: 1193, width: 374, height: 299 }, [geneXAxis(46)], [geneYAxis(-15, 15, 'LightSeq Sensitivity - DropSeq Sensitivity (%)', 18)]);
errorSeries(J, jLow, jHigh, 1.2, 4, 1);
dotSeries(J, jMean.map(function (v) { return [v]; }));
// colorbar j (gene length)
const jcbTop = 1190, jcbHeight = 362;
const JCB = addGrid({ left: 1286, top: jcbTop, width: 7, height: jcbHeight },
  [{ type: 'value', min: 0, max: 1, show: false }],
  [{ type: 'value', min: geneLengthRange[0], max: geneLengthRange[1], axisLine: { show: false }, splitLine: { show: false }, axisTick: { show: false },
    axisLabel: { customValues: geneLengthRange, formatter: function (v) { return Math.round(v).toLocaleString('en-US'); }, fontSize: 11.5, color: '#333', margin: 3 } },
   { type: 'value', min: geneLengthRange[0], max: geneLengthRange[1], position: 'right', axisLine: { show: false }, splitLine: { show: false },
    axisTick: { customValues: geneLength, length: 5, lineStyle: { color: '#222' } }, axisLabel: { show: false } }]);
colorbarSeries(JCB, geneLengthRange, function () {
  return new echarts.graphic.LinearGradient(0, 1, 0, 0, GENE_STOPS.map(function (s) { return { offset: s[0], color: s[1] }; }));
});
// spread the gene-name labels so they do not overlap (pixel layout only)
const labelBase = geneLength.map(function (L) { return jcbTop + (geneLengthRange[1] - L) / (geneLengthRange[1] - geneLengthRange[0]) * jcbHeight; });
const labelOrder = labelBase.map(function (y, i) { return i; }).sort(function (a, b) { return labelBase[a] - labelBase[b]; });
const labelPos = labelOrder.map(function (i) { return labelBase[i]; });
for (let it = 0; it < 300; it++) {
  for (let k = 1; k < labelPos.length; k++) {
    const gap = labelPos[k] - labelPos[k - 1];
    if (gap < 14) { const d = (14 - gap) / 2; labelPos[k - 1] -= d; labelPos[k] += d; }
  }
}
const labelShift = [];
labelOrder.forEach(function (i, k) { labelShift[i] = labelPos[k] - labelBase[i]; });
series.push({ type: 'scatter', xAxisIndex: JCB.x[0], yAxisIndex: JCB.y[0], symbolSize: 1, itemStyle: { color: 'rgba(0,0,0,0)' },
  data: genes.map(function (g, k) { return { name: g, value: [1, geneLength[k]], label: { offset: [0, labelShift[k]] } }; }),
  label: { show: true, position: 'right', distance: 8, formatter: '{b}', fontSize: 15, color: '#111' } });
txt('Gene Length (bp)', 1302, 1159, { font: '14px ' + FONT, fill: '#222' });

// ======================= RENDER =======================
const chart = echarts.init(document.getElementById('chart'), null, { renderer: 'canvas', width: 1370, height: 1560 });
chart.setOption({
  animation: false,
  backgroundColor: '#ffffff',
  textStyle: { fontFamily: FONT },
  legend: { data: pcaGroups, orient: 'vertical', left: 108, top: 625, icon: 'circle', itemWidth: 16, itemHeight: 16, itemGap: 9, selectedMode: false,
    textStyle: { fontSize: 15, color: '#111', fontFamily: FONT } },
  grid: grids, xAxis: xAxes, yAxis: yAxes, series: series,
  graphic: { elements: graphics }
});
</script>
</body>
</html>
